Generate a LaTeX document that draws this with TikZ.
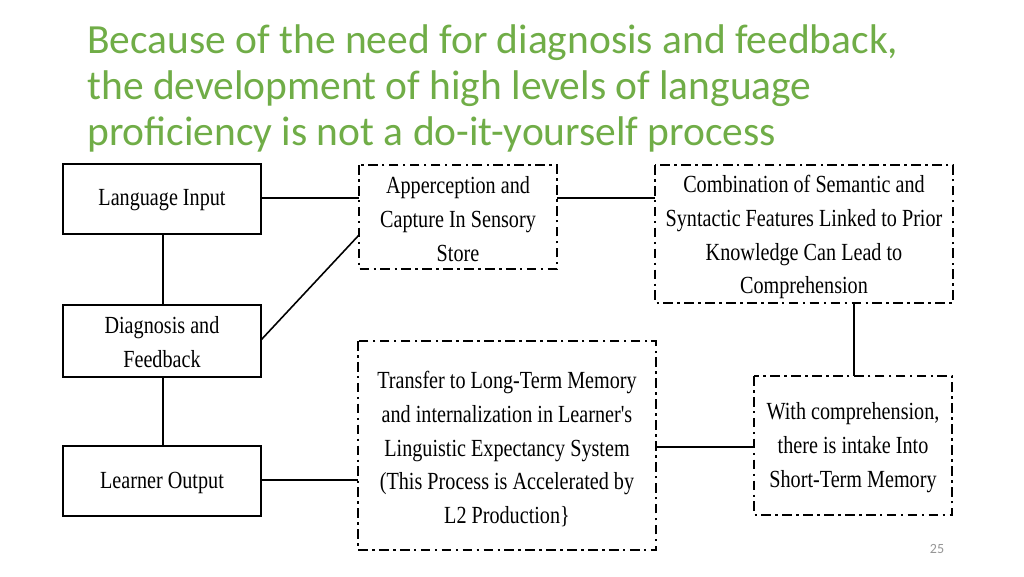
\documentclass[tikz,border=0pt]{standalone}
\usepackage{fontspec}
\setmainfont{Liberation Serif}
\newfontfamily\titlefont{Carlito}
\newfontfamily\boxfont[FakeStretch=0.82]{Liberation Serif}
\definecolor{titlegreen}{RGB}{112,173,71}
\definecolor{pagegray}{RGB}{150,150,150}
\begin{document}
\begin{tikzpicture}[x=0.02cm,y=-0.02cm,
  solidbox/.style={draw=black, line width=1.5pt, fill=white, inner sep=0pt},
  dashbox/.style={draw=black, line width=1.6pt, fill=white, inner sep=0pt,
    dash pattern=on 5.5pt off 2.5pt on 1.4pt off 2.5pt},
  boxtext/.style={font=\boxfont\fontsize{14}{19.3}\selectfont, align=center, inner sep=0pt},
  titletext/.style={font=\titlefont\fontsize{23.6}{26}\selectfont, text=titlegreen, anchor=base west, inner sep=0pt},
  link/.style={draw=black, line width=0.9pt}]
\useasboundingbox (0,0) rectangle (1024,576);
\fill[white] (0,0) rectangle (1024,576);
% title
\node[titletext] (t1) at (87,53) {Because of the need for diagnosis and feedback,};
\node[titletext] (t2) at (87,99) {the development of high levels of language};
\node[titletext] (t3) at (87,145) {proficiency is not a do-it-yourself process};
% solid boxes
\draw[solidbox] (63,164) rectangle (261,234);
\node[boxtext] (inpT) at (162,200) {Language Input};
\draw[solidbox] (63,305) rectangle (261,377);
\node[boxtext] (diagT) at (162,342) {Diagnosis and\\Feedback};
\draw[solidbox] (63,446) rectangle (261,516);
\node[boxtext] (outT) at (162,483) {Learner Output};
% dashed boxes
\draw[dashbox] (359,165) rectangle (557,269);
\node[boxtext] (appT) at (458,219) {Apperception and\\Capture In Sensory\\Store};
\draw[dashbox] (655,165) rectangle (953,303);
\node[boxtext] (combT) at (804,237) {Combination of Semantic and\\Syntactic Features Linked to Prior\\Knowledge Can Lead to\\Comprehension};
\draw[dashbox] (358,341) rectangle (656,550);
\node[boxtext] (trT) at (507,449) {Transfer to Long-Term Memory\\and internalization in Learner's\\Linguistic Expectancy System\\(This Process is Accelerated by\\L2 Production\}};
\draw[dashbox] (754,376) rectangle (952,515);
\node[boxtext] (wcT) at (853,448) {With comprehension,\\there is intake Into\\Short-Term Memory};
% connector coordinates
\coordinate (inpR) at (261,198);
\coordinate (inpB) at (163,234);
\coordinate (diagT1) at (163,305);
\coordinate (diagR) at (261,340);
\coordinate (diagB) at (163,377);
\coordinate (outT1) at (163,446);
\coordinate (outR) at (261,480);
\coordinate (appL) at (359,198);
\coordinate (appL2) at (359,235);
\coordinate (appR) at (557,198);
\coordinate (combL) at (655,198);
\coordinate (combB) at (854,303);
\coordinate (wcTop) at (854,376);
\coordinate (trL) at (358,480);
\coordinate (trR) at (656,447);
\coordinate (wcL) at (754,447);
\draw[link] (inpR) -- (appL);
\draw[link] (diagR) -- (appL2);
\draw[link] (appR) -- (combL);
\draw[link] (inpB) -- (diagT1);
\draw[link] (diagB) -- (outT1);
\draw[link] (outR) -- (trL);
\draw[link] (trR) -- (wcL);
\draw[link] (combB) -- (wcTop);
% page number
\node[font=\titlefont\fontsize{8}{9}\selectfont, text=pagegray] (pg) at (937,549) {25};
\end{tikzpicture}
\end{document}
